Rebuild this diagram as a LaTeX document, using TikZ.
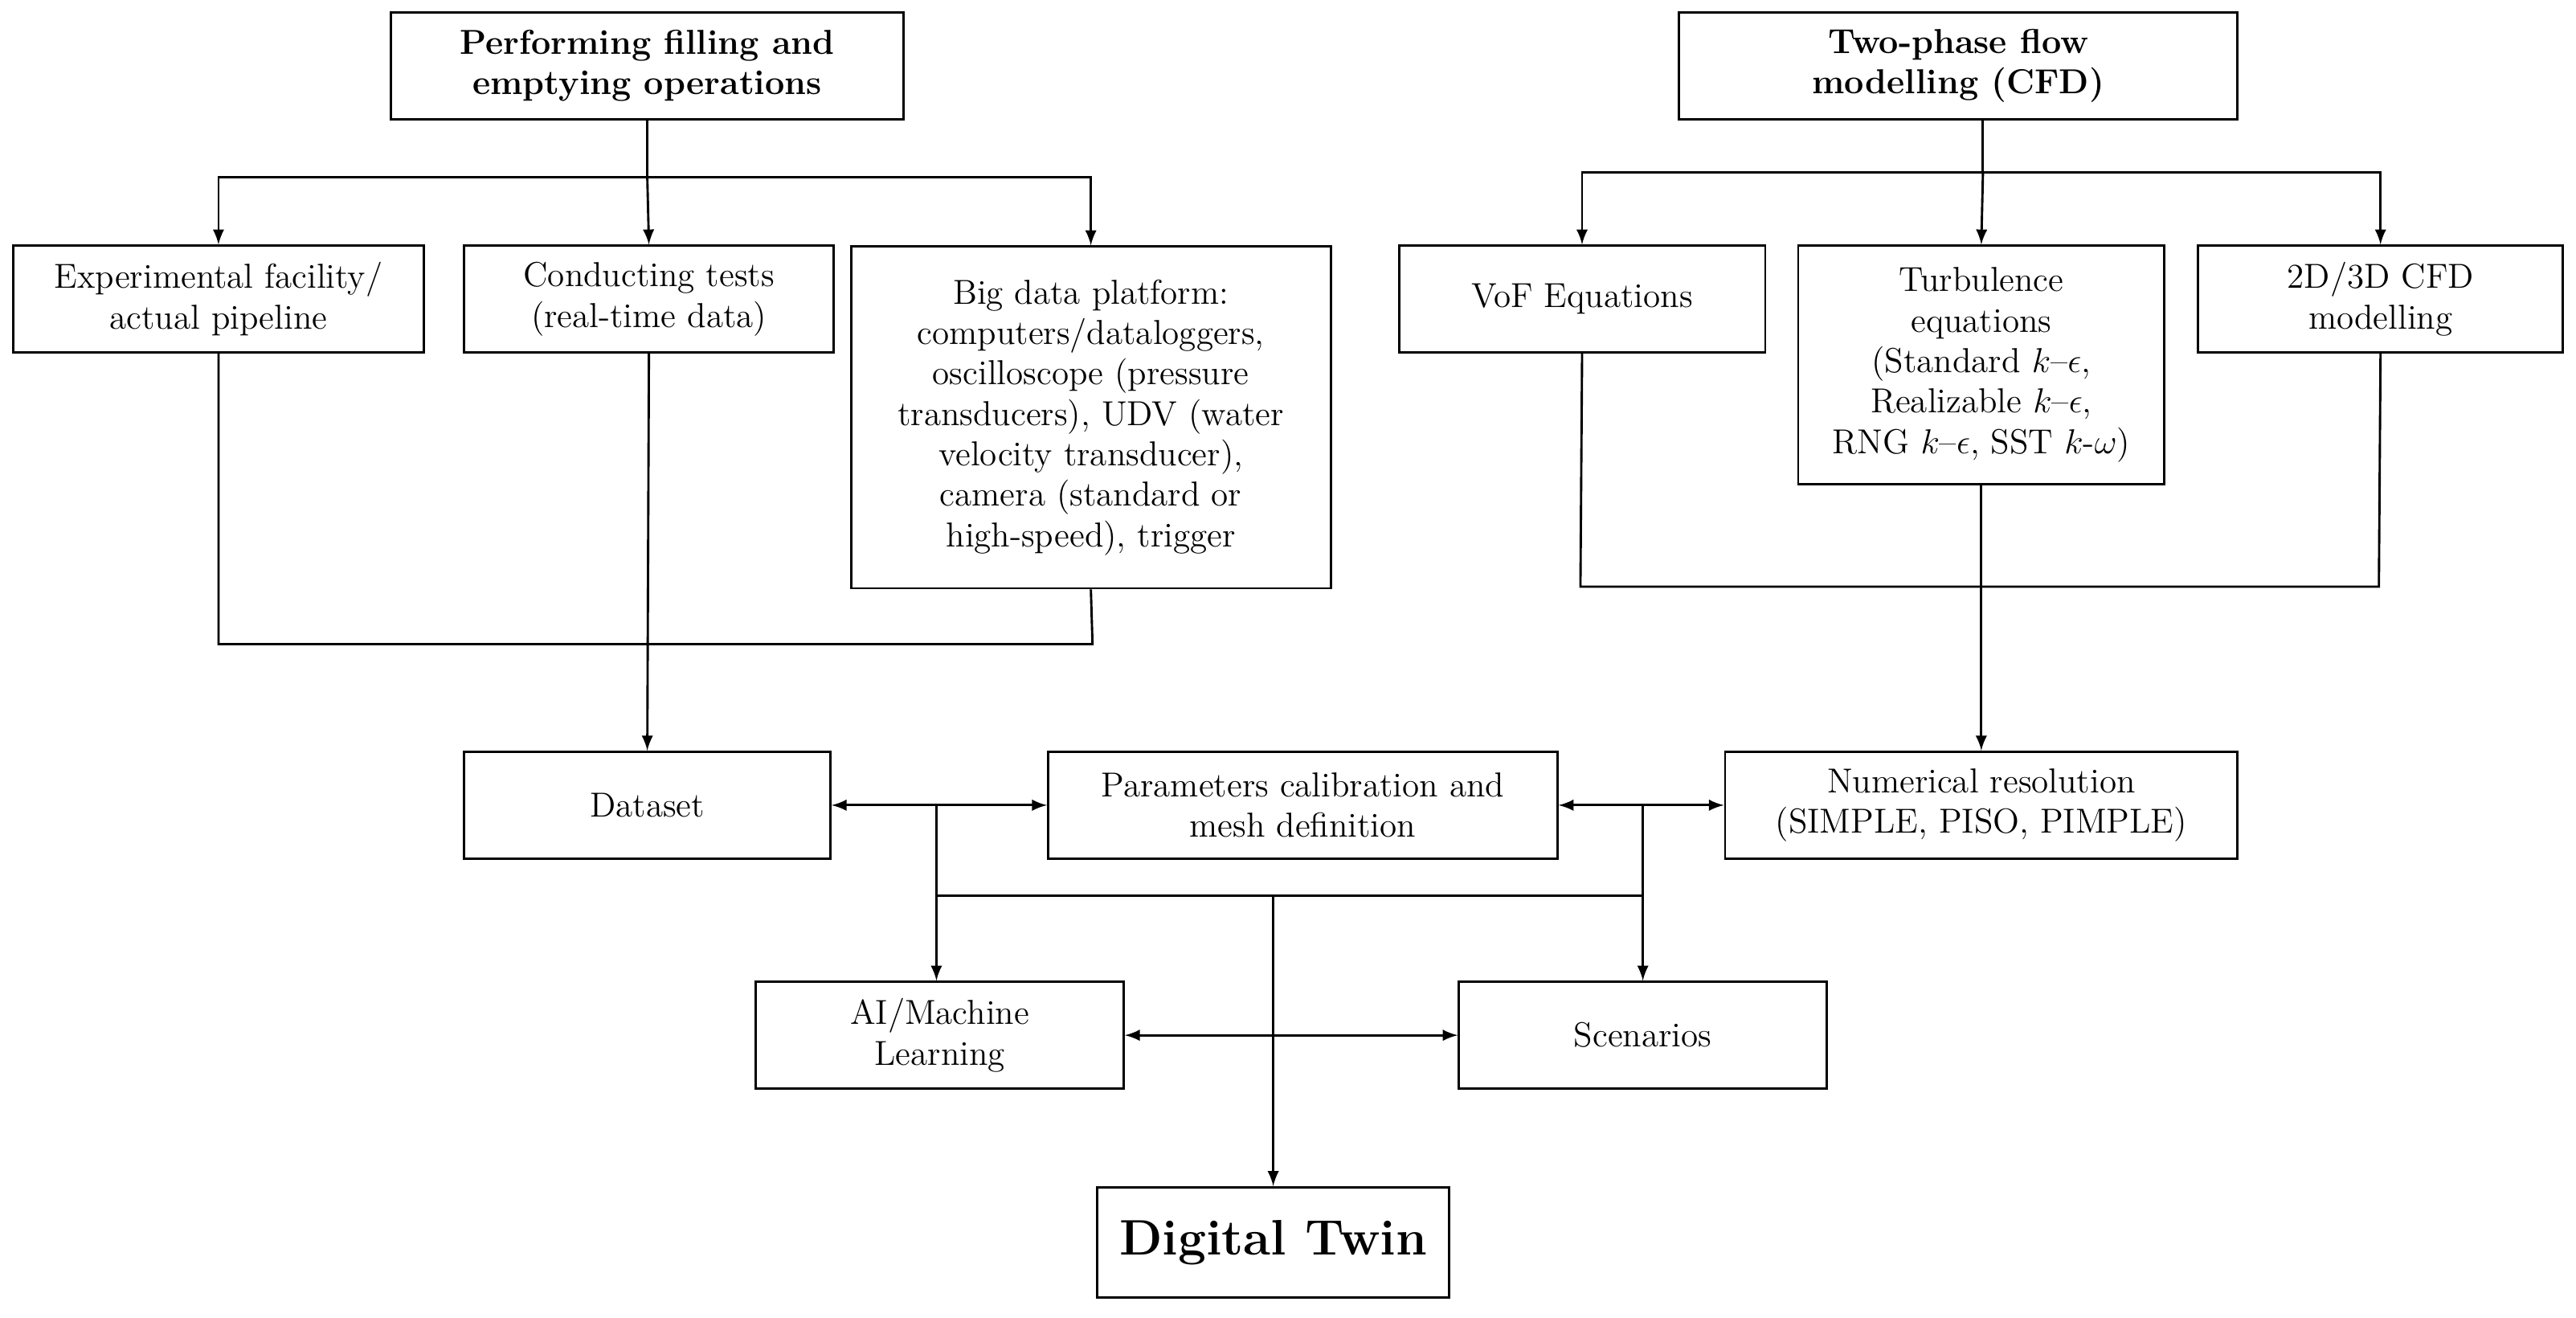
\documentclass[tikz,border=0pt]{standalone}
\usepackage{tikz}
\tikzset{>=latex}
\tikzset{
	box/.style={draw, thick, align=center, inner sep=2pt, font=\large},
	line/.style={thick},
}
\begin{document}
\begin{tikzpicture}[x=0.02cm, y=-0.02cm]
	\useasboundingbox (0,0) rectangle (1568,802);
	% top boxes
	\node[box, minimum width=312\pgflinewidth, font=\large\bfseries] (fill) at (394,40) [minimum width=6.24cm, minimum height=1.3cm] {Performing filling and\\emptying operations};
	\node[box, font=\large\bfseries, minimum width=6.8cm, minimum height=1.3cm] (cfd) at (1192,40) {Two-phase flow\\modelling (CFD)};
	% experimental branch
	\node[box, minimum width=5cm, minimum height=1.3cm] (exp) at (133,182) {Experimental facility/\\actual pipeline};
	\node[box, minimum width=4.5cm, minimum height=1.3cm] (tests) at (395,182) {Conducting tests\\(real-time data)};
	\node[box, minimum width=5.84cm, minimum height=4.16cm] (big) at (664,254) {Big data platform:\\computers/dataloggers,\\oscilloscope (pressure\\transducers), UDV (water\\velocity transducer),\\camera (standard or\\high-speed), trigger};
	% CFD branch
	\node[box, minimum width=4.46cm, minimum height=1.3cm] (vof) at (963,182) {VoF Equations};
	\node[box, minimum width=4.46cm, minimum height=2.9cm] (turb) at (1206,222) {Turbulence\\equations\\(Standard $k$--$\epsilon$,\\Realizable $k$--$\epsilon$,\\RNG $k$--$\epsilon$, SST $k$-$\omega$)};
	\node[box, minimum width=4.44cm, minimum height=1.3cm] (cfdm) at (1449,182) {2D/3D CFD\\modelling};
	% middle row
	\node[box, minimum width=4.46cm, minimum height=1.3cm] (data) at (394,490) {Dataset};
	\node[box, minimum width=6.2cm, minimum height=1.3cm] (param) at (793,490) {Parameters calibration and\\mesh definition};
	\node[box, minimum width=6.24cm, minimum height=1.3cm] (num) at (1206,490) {Numerical resolution\\(SIMPLE, PISO, PIMPLE)};
	\node[box, minimum width=4.48cm, minimum height=1.3cm] (ai) at (572,630) {AI/Machine\\Learning};
	\node[box, minimum width=4.48cm, minimum height=1.3cm] (scen) at (1000,630) {Scenarios};
	\node[box, font=\LARGE\bfseries, minimum width=4.28cm, minimum height=1.34cm] (twin) at (775,756) {Digital Twin};
	% junction points
	\coordinate (j1) at (394,108);
	\coordinate (j2) at (1207,105);
	\coordinate (j3) at (133,392);
	\coordinate (j4) at (665,392);
	\coordinate (j5) at (962,357);
	\coordinate (j6) at (1448,357);
	\coordinate (j7) at (570,545);
	\coordinate (j8) at (1000,545);
	% connectors
	\draw[line] (fill.south) -- (j1);
	\draw[line, ->] (j1) -| (exp.north);
	\draw[line, ->] (j1) -- (tests.north);
	\draw[line, ->] (j1) -| (big.north);
	\draw[line] (cfd.south -| j2) -- (j2);
	\draw[line, ->] (j2) -| (vof.north);
	\draw[line, ->] (j2) -- (turb.north);
	\draw[line, ->] (j2) -| (cfdm.north);
	\draw[line] (exp.south) -- (j3) -- (j4) -- (big.south);
	\draw[line, ->] (tests.south) -- (data.north);
	\draw[line] (vof.south) -- (j5) -- (j6) -- (cfdm.south);
	\draw[line, ->] (turb.south) -- (num.north);
	\draw[line, <->] (data.east) -- (param.west);
	\draw[line, <->] (param.east) -- (num.west);
	\draw[line, ->] (data.east -| j7) -- (ai.north -| j7);
	\draw[line, ->] (param.east -| j8) -- (scen.north);
	\draw[line] (j7) -- (j8);
	\draw[line, ->] (twin.north |- j7) -- (twin.north);
	\draw[line, <->] (ai.east) -- (scen.west);
\end{tikzpicture}
\end{document}
